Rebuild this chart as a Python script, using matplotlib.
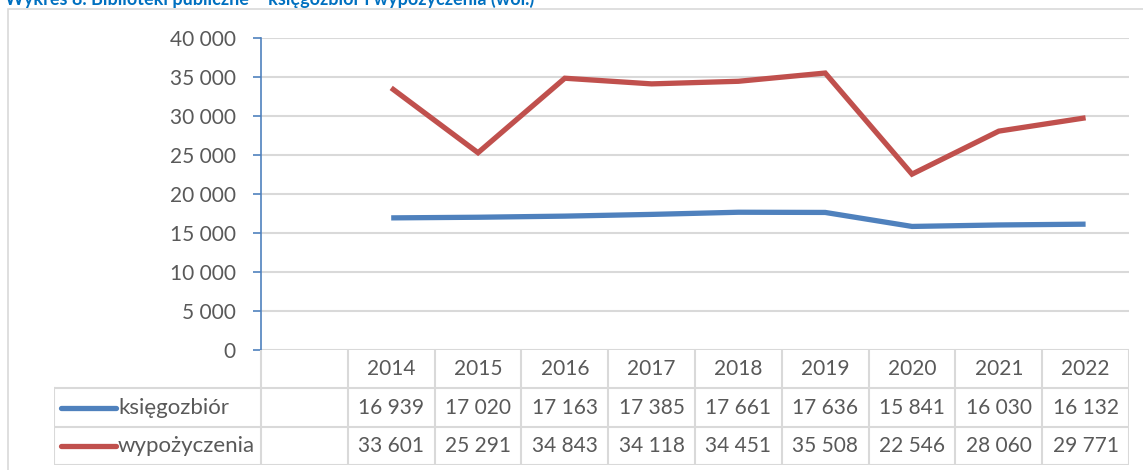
import numpy as np
import matplotlib
matplotlib.use("Agg")
import matplotlib.pyplot as plt
from matplotlib.patches import Rectangle
from matplotlib.lines import Line2D

plt.rcParams["font.family"] = ["Lato", "DejaVu Sans"]

years = ["2014", "2015", "2016", "2017", "2018", "2019", "2020", "2021", "2022"]
ksiegozbior = [16939, 17020, 17163, 17385, 17661, 17636, 15841, 16030, 16132]
wypozyczenia = [33601, 25291, 34843, 34118, 34451, 35508, 22546, 28060, 29771]
series_names = ["księgozbiór", "wypożyczenia"]
series_colors = ["#4F81BD", "#C0504D"]
y_ticks = [0, 5000, 10000, 15000, 20000, 25000, 30000, 35000, 40000]
title = "Wykres 8. Biblioteki publiczne – księgozbiór i wypożyczenia (wol.)"

W, H = 1143, 470
TEXT = "#595959"
GRID = "#D9D9D9"


def fmt(v):
    return f"{v:,}".replace(",", " ")


fig = plt.figure(figsize=(W / 100, H / 100), dpi=100)

# outer chart border (clipped on right/bottom like the screenshot)
fig.patches.append(Rectangle((8 / W, -0.1), 1.2, 1 - 9 / H + 0.1, transform=fig.transFigure,
                             fill=False, edgecolor=GRID, lw=1.2))

# title sits mostly above the picture, only its lower part shows
fig.text(5 / W, 1 - 4.5 / H, title, color="#0070C0", fontsize=13, fontweight="bold",
         va="baseline", ha="left")

# plot area
left, right, top, bottom = 261, 1129, 38, 350
ax = fig.add_axes([left / W, 1 - bottom / H, (right - left) / W, (bottom - top) / H])
n = len(years)
x = np.arange(1, n + 1)
ax.set_xlim(-0.5, n + 0.5)
ax.set_ylim(0, 40000)
ax.set_yticks(y_ticks)
ax.set_yticklabels([fmt(v) for v in y_ticks])
ax.yaxis.grid(True, color=GRID, lw=1.5)
ax.set_axisbelow(True)
ax.set_xticks([])
for s in ["top", "right", "bottom"]:
    ax.spines[s].set_visible(False)
ax.spines["left"].set_color("#4F81BD")
ax.spines["left"].set_linewidth(1.2)
ax.tick_params(axis="y", direction="out", length=6, width=1.2, color="#4F81BD",
               pad=12, labelsize=15, labelcolor=TEXT)

for vals, col in zip([ksiegozbior, wypozyczenia], series_colors):
    ax.plot(x, vals, color=col, lw=3.8, solid_capstyle="butt", solid_joinstyle="miter")

# data table below
unit = (right - left) / (n + 1)
tleft = 54
tab = fig.add_axes([tleft / W, 1 - 465 / H, (right - tleft) / W, (465 - bottom) / H])
xl = -0.5 - (left - tleft) / unit
tab.set_xlim(xl, n + 0.5)
tab.set_ylim(3, 0)
tab.axis("off")

lkw = dict(color=GRID, lw=1.5, solid_capstyle="projecting")
for xv in np.arange(-0.5, n + 1):
    tab.add_line(Line2D([xv, xv], [0, 3], **lkw))
tab.add_line(Line2D([xl, xl], [1, 3], **lkw))
for yv in [1, 2, 3]:
    tab.add_line(Line2D([xl, n + 0.5], [yv, yv], **lkw))

for xi, yr in zip(x, years):
    tab.text(xi, 0.5, yr, ha="center", va="center", fontsize=15, color=TEXT)

for r, (vals, name, col) in enumerate(zip([ksiegozbior, wypozyczenia], series_names, series_colors)):
    yc = r + 1.5
    for xi, v in zip(x, vals):
        tab.text(xi, yc, fmt(v), ha="center", va="center", fontsize=15, color=TEXT)
    lx0 = xl + 7 / unit
    lx1 = xl + 62 / unit
    tab.add_line(Line2D([lx0, lx1], [yc, yc], color=col, lw=3.8, solid_capstyle="round"))
    tab.text(xl + 64 / unit, yc, name, ha="left", va="center", fontsize=16, color=TEXT)

fig.savefig("out.png", dpi=100)
